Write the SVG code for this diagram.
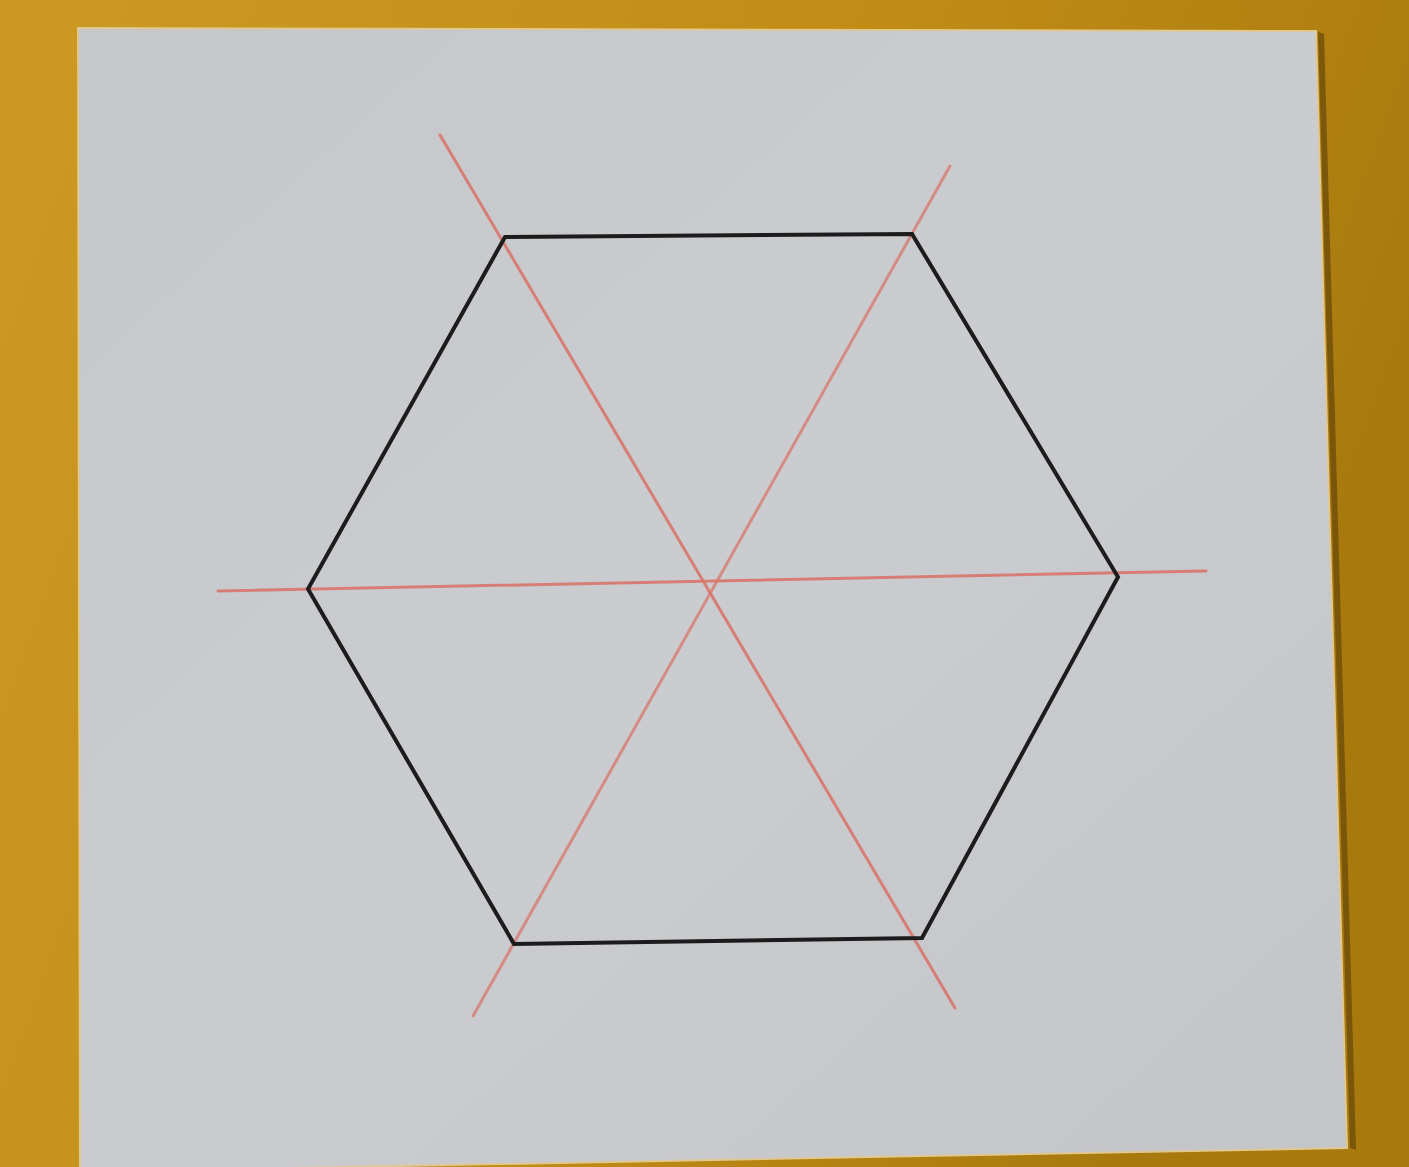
<svg xmlns="http://www.w3.org/2000/svg" width="1409" height="1167" viewBox="0 0 1409 1167">
<defs>
<linearGradient id="bg" x1="0" y1="0" x2="1" y2="0.3">
<stop offset="0" stop-color="#cc9a22"/>
<stop offset="0.6" stop-color="#c08c16"/>
<stop offset="1" stop-color="#a87a0e"/>
</linearGradient>
<linearGradient id="paper" x1="0" y1="0" x2="1" y2="1">
<stop offset="0" stop-color="#c6c7ca"/>
<stop offset="0.5" stop-color="#cbcccf"/>
<stop offset="1" stop-color="#c4c5c8"/>
</linearGradient>
<style>
.hex{fill:none;stroke:#1c1c1c;stroke-width:4;stroke-linejoin:miter}
.red{stroke:#d8766c;stroke-width:3;stroke-linecap:round;opacity:0.9}
</style>
</defs>
<rect width="1409" height="1167" fill="url(#bg)"/>
<polygon points="1318,32 1350,1148 1356,1150 1324,34" fill="#5a3d08" opacity="0.6"/>
<polygon points="78,28 1316,31 1347,1148 80,1172" fill="url(#paper)" stroke="#e0c890" stroke-width="2"/>
<g id="axes">
<line class="red" x1="440" y1="135" x2="955" y2="1008"/>
<line class="red" x1="950" y1="166" x2="473" y2="1016" style="opacity:0.75"/>
<line class="red" x1="218" y1="591" x2="1206" y2="571"/>
</g>
<g id="hexagon">
<polygon class="hex" points="505,237 912,234 1118,577 922,938 514,944 308,589"/>
</g>
</svg>
